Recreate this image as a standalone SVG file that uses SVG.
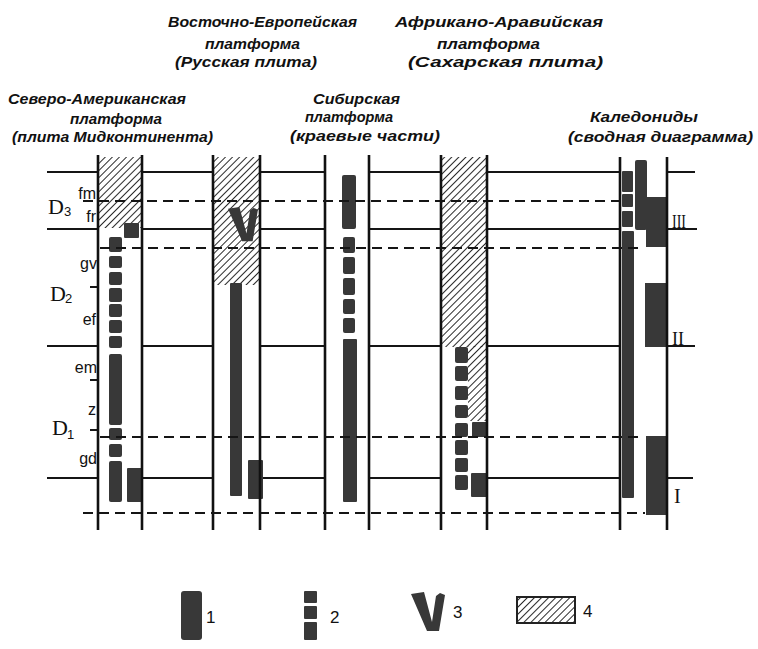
<svg xmlns="http://www.w3.org/2000/svg" width="758" height="649" viewBox="0 0 758 649">
<style>
.t{font-family:"Liberation Sans",Arial,sans-serif;font-style:italic;font-weight:bold;font-size:15px;fill:#111}
.l{font-family:"Liberation Sans",Arial,sans-serif;font-size:16px;fill:#111}
.D{font-family:"Liberation Serif",serif;font-size:22px;fill:#111}
.s{font-family:"Liberation Sans",Arial,sans-serif;font-size:13px;fill:#111}
.sol{stroke:#151515;stroke-width:2;fill:none}
.das{stroke:#151515;stroke-width:2;stroke-dasharray:10 6;fill:none}
.col{stroke:#111;stroke-width:2.6;fill:none}
.b{fill:#383838}
.h{fill:url(#hatch)}
</style>
<defs>
<pattern id="hatch" patternUnits="userSpaceOnUse" width="5" height="5" patternTransform="rotate(45)">
<line x1="0" y1="0" x2="0" y2="5" stroke="#111" stroke-width="1.8"/>
</pattern>
<polygon id="vmark" points="0,2 13,0 21,30 25,4 29,1 34,3 28,39 16,39"/>
</defs>

<rect width="758" height="649" fill="#fff"/>

<g id="titles">
<text class="t" x="8" y="104" textLength="178" lengthAdjust="spacingAndGlyphs">Северо-Американская</text>
<text class="t" x="70" y="124" textLength="92" lengthAdjust="spacingAndGlyphs">платформа</text>
<text class="t" x="12" y="142" textLength="201" lengthAdjust="spacingAndGlyphs">(плита Мидконтинента)</text>
<text class="t" x="168" y="27" textLength="189" lengthAdjust="spacingAndGlyphs">Восточно-Европейская</text>
<text class="t" x="205" y="49" textLength="95" lengthAdjust="spacingAndGlyphs">платформа</text>
<text class="t" x="175" y="67" textLength="142" lengthAdjust="spacingAndGlyphs">(Русская плита)</text>
<text class="t" x="395" y="27" textLength="208" lengthAdjust="spacingAndGlyphs">Африкано-Аравийская</text>
<text class="t" x="437" y="49" textLength="103" lengthAdjust="spacingAndGlyphs">платформа</text>
<text class="t" x="408" y="67" textLength="195" lengthAdjust="spacingAndGlyphs">(Сахарская плита)</text>
<text class="t" x="313" y="104" textLength="87" lengthAdjust="spacingAndGlyphs">Сибирская</text>
<text class="t" x="305" y="122" textLength="88" lengthAdjust="spacingAndGlyphs">платформа</text>
<text class="t" x="290" y="141" textLength="150" lengthAdjust="spacingAndGlyphs">(краевые части)</text>
<text class="t" x="590" y="122" textLength="108" lengthAdjust="spacingAndGlyphs">Каледониды</text>
<text class="t" x="568" y="142" textLength="185" lengthAdjust="spacingAndGlyphs">(сводная диаграмма)</text>
</g>

<g id="stage-labels">
<text class="D" x="48" y="214">D</text><text class="s" x="64" y="216">3</text>
<text class="D" x="50" y="301">D</text><text class="s" x="65" y="303">2</text>
<text class="D" x="52" y="435">D</text><text class="s" x="67" y="439">1</text>
<text class="l" x="96" y="199" text-anchor="end">fm</text>
<text class="l" x="96" y="222" text-anchor="end">fr</text>
<text class="l" x="97" y="269" text-anchor="end">gv</text>
<text class="l" x="96" y="325" text-anchor="end">ef</text>
<text class="l" x="97" y="373" text-anchor="end">em</text>
<text class="l" x="96" y="415" text-anchor="end">z</text>
<text class="l" x="97" y="464" text-anchor="end">gd</text>
<text class="l" x="672" y="228" textLength="14" lengthAdjust="spacingAndGlyphs" style="font-family:'Liberation Serif',serif;font-size:18px">III</text>
<text class="l" x="672" y="345" style="font-family:'Liberation Serif',serif;font-size:18px">II</text>
<text class="l" x="674" y="503" style="font-family:'Liberation Serif',serif;font-size:20px">I</text>
</g>

<g id="connectors">
<path class="sol" d="M47 172H98M142 172H213M260 172H325M369 172H441M487 172H620M667 172H695"/>
<path class="sol" d="M47 229H98M142 229H213M260 229H325M369 229H441M487 229H620M667 229H697"/>
<path class="sol" d="M47 346H98M142 346H213M260 346H325M369 346H441M487 346H620M667 346H695"/>
<path class="sol" d="M47 478H98M142 478H213M260 478H325M369 478H441M487 478H620M667 478H693"/>
<path class="sol" d="M90 287H98M90 380H98M90 430H98"/>
</g>

<g id="col1">
<rect class="h" x="99" y="157" width="42" height="71"/>
<rect class="b" x="124" y="223" width="15" height="15" rx="1"/>
<rect class="b" x="109" y="237" width="13" height="15" rx="2"/>
<rect class="b" x="109" y="256" width="13" height="12" rx="2"/>
<rect class="b" x="109" y="272" width="13" height="13" rx="2"/>
<rect class="b" x="109" y="288" width="13" height="14" rx="2"/>
<rect class="b" x="109" y="304" width="13" height="13" rx="2"/>
<rect class="b" x="109" y="320" width="13" height="13" rx="2"/>
<rect class="b" x="109" y="336" width="13" height="12" rx="2"/>
<rect class="b" x="109" y="354" width="13" height="71" rx="2"/>
<rect class="b" x="109" y="428" width="13" height="12" rx="2"/>
<rect class="b" x="109" y="444" width="13" height="13" rx="2"/>
<rect class="b" x="109" y="461" width="13" height="41" rx="2"/>
<rect class="b" x="127" y="468" width="16" height="34" rx="1"/>
<path class="col" d="M98 155V530M142 155V530"/>
</g>

<g id="col2">
<rect class="h" x="214" y="157" width="45" height="128"/>
<use href="#vmark" class="b" transform="translate(228 207) scale(0.88)"/>
<rect class="b" x="230" y="283" width="12" height="213" rx="1"/>
<rect class="b" x="248" y="460" width="15" height="39" rx="1"/>
<path class="col" d="M213 155V530M260 155V530"/>
</g>

<g id="col3">
<rect class="b" x="342" y="175" width="14" height="54" rx="2"/>
<rect class="b" x="343" y="237" width="12" height="16" rx="2"/>
<rect class="b" x="343" y="257" width="12" height="17" rx="2"/>
<rect class="b" x="343" y="278" width="12" height="17" rx="2"/>
<rect class="b" x="343" y="299" width="12" height="15" rx="2"/>
<rect class="b" x="343" y="318" width="12" height="15" rx="2"/>
<rect class="b" x="343" y="339" width="14" height="163" rx="1"/>
<path class="col" d="M325 155V530M369 155V530"/>
</g>

<g id="col4">
<rect class="h" x="442" y="157" width="44" height="190"/>
<rect class="h" x="468" y="346" width="18" height="75"/>
<rect class="b" x="455" y="347" width="13" height="16" rx="2"/>
<rect class="b" x="455" y="366" width="13" height="15" rx="2"/>
<rect class="b" x="455" y="386" width="13" height="14" rx="2"/>
<rect class="b" x="455" y="405" width="13" height="13" rx="2"/>
<rect class="b" x="455" y="423" width="13" height="14" rx="2"/>
<rect class="b" x="455" y="440" width="13" height="15" rx="2"/>
<rect class="b" x="455" y="458" width="13" height="14" rx="2"/>
<rect class="b" x="455" y="475" width="13" height="15" rx="2"/>
<rect class="b" x="472" y="422" width="15" height="15" rx="1"/>
<rect class="b" x="471" y="473" width="17" height="24" rx="1"/>
<path class="col" d="M441 155V530M487 155V530"/>
</g>

<g id="col5">
<rect class="b" x="622" y="171" width="11" height="21" rx="1"/>
<rect class="b" x="622" y="194" width="11" height="13" rx="1"/>
<rect class="b" x="622" y="211" width="11" height="16" rx="1"/>
<rect class="b" x="622" y="231" width="12" height="267" rx="1"/>
<rect class="b" x="635" y="160" width="12" height="70" rx="2"/>
<rect class="b" x="646" y="197" width="21" height="50"/>
<rect class="b" x="645" y="283" width="22" height="64"/>
<rect class="b" x="646" y="436" width="21" height="79"/>
<path class="col" d="M620 157V530M667 157V530"/>
</g>

<g id="dashed">
<path class="das" d="M83 201H620"/>
<path class="das" d="M100 248H642"/>
<path class="das" d="M100 437H642"/>
<path class="das" d="M83 513H645"/>
</g>

<g id="legend">
<rect class="b" x="181" y="591" width="21" height="49" rx="3"/>
<text class="l" x="206" y="623" style="font-size:17px">1</text>
<rect class="b" x="304" y="591" width="13" height="12" rx="1"/>
<rect class="b" x="304" y="606" width="13" height="13" rx="1"/>
<rect class="b" x="304" y="622" width="13" height="18" rx="1"/>
<text class="l" x="330" y="623" style="font-size:17px">2</text>
<use href="#vmark" class="b" transform="translate(411 592)"/>
<text class="l" x="453" y="618" style="font-size:17px">3</text>
<rect x="517" y="597" width="58" height="26" fill="url(#hatch)" stroke="#222" stroke-width="2"/>
<text class="l" x="583" y="617" style="font-size:17px">4</text>
</g>
</svg>
